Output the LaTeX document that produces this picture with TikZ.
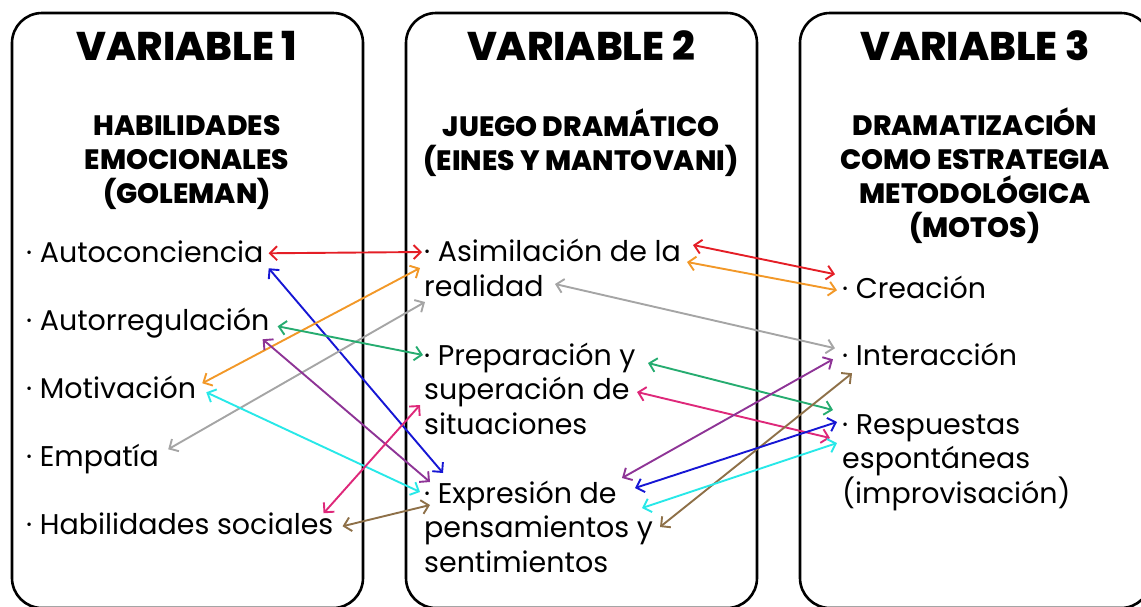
\documentclass[tikz,border=0pt]{standalone}
\usepackage{fontspec}
\setmainfont{Poppins}[BoldFont={Poppins ExtraBold}]
\usetikzlibrary{arrows.meta}

\definecolor{lnred}{RGB}{228,30,38}
\definecolor{lnblue}{RGB}{22,22,212}
\definecolor{lnorange}{RGB}{242,152,40}
\definecolor{lngray}{RGB}{165,165,165}
\definecolor{lngreen}{RGB}{38,172,112}
\definecolor{lnpurple}{RGB}{142,52,150}
\definecolor{lncyan}{RGB}{40,232,232}
\definecolor{lnpink}{RGB}{222,40,122}
\definecolor{lnbrown}{RGB}{142,112,72}

\tikzset{
  panel/.style={draw=black, line width=2.6pt, rounded corners=30pt},
  vartitle/.style={anchor=base, inner sep=0pt, font=\bfseries\fontsize{40}{46}\selectfont},
  subtitle/.style={anchor=base, align=center, inner sep=0pt, font=\bfseries\fontsize{28}{33.7}\selectfont},
  item/.style={anchor=base west, align=left, inner sep=0pt, font=\fontsize{28.5}{34.5}\selectfont},
  link/.style={line width=1.9pt, {Straight Barb[length=7pt,width=14pt]}-{Straight Barb[length=7pt,width=14pt]}}
}

\begin{document}
\begin{tikzpicture}[x=1pt, y=-1pt]
    \useasboundingbox (0,0) rectangle (1141,606);

    % the three panels
    \draw[panel] (12,13) rectangle (363,608);
    \draw[panel] (406,13) rectangle (757,608);
    \draw[panel] (800,13) rectangle (1151,608);

    % headings (base = last line)
    \node[vartitle] (var1) at (187,60) {VARIABLE 1};
    \node[vartitle] (var2) at (581,60) {VARIABLE 2};
    \node[vartitle] (var3) at (975,60) {VARIABLE 3};
    \node[subtitle] (sub1) at (187,203) {HABILIDADES\\EMOCIONALES\\(GOLEMAN)};
    \node[subtitle] (sub2) at (581,170) {JUEGO DRAMÁTICO\\(EINES Y MANTOVANI)};
    \node[subtitle] (sub3) at (975,237) {DRAMATIZACIÓN\\COMO ESTRATEGIA\\METODOLÓGICA\\(MOTOS)};

    % variable 1
    \node[item] (autoc) at (26,262) {· Autoconciencia};
    \node[item] (autor) at (26,330) {· Autorregulación};
    \node[item] (motiv) at (26,398) {· Motivación};
    \node[item] (empat) at (26,466) {· Empatía};
    \node[item] (habil) at (26,534) {· Habilidades sociales};

    % variable 2
    \node[item] (asim) at (424,296) {· Asimilación de la\\realidad};
    \node[item] (prep) at (424,434) {· Preparación y\\superación de\\situaciones};
    \node[item] (expr) at (424,572) {· Expresión de\\pensamientos y\\sentimientos};

    % variable 3
    \node[item] (crea) at (842,298) {· Creación};
    \node[item] (inter) at (842,365) {· Interacción};
    \node[item] (resp) at (842,503) {· Respuestas\\espontáneas\\(improvisación)};

    % links variable 1 -- variable 2
    \draw[link, lnred] ([shift={(5,-6)}]autoc.mid east) -- ([shift={(-2,-44)}]asim.base west);
    \draw[link, lnblue] ([shift={(5,9)}]autoc.mid east) -- ([shift={(19,-99)}]expr.base west);
    \draw[link, lnorange] ([shift={(6,-12)}]motiv.mid east) -- ([shift={(-4,-28)}]asim.base west);
    \draw[link, lngray] ([shift={(9,-14)}]empat.mid east) -- ([shift={(1,6)}]asim.base west);
    \draw[link, lngreen] ([shift={(8,-1)}]autor.mid east) -- ([shift={(-1,-79)}]prep.base west);
    \draw[link, lnpurple] ([shift={(-7,12)}]autor.mid east) -- ([shift={(6,-90)}]expr.base west);
    \draw[link, lncyan] ([shift={(10,-3)}]motiv.mid east) -- ([shift={(-4,-80)}]expr.base west);
    \draw[link, lnpink] ([shift={(-10,-18)}]habil.mid east) -- ([shift={(-4,-29)}]prep.base west);
    \draw[link, lnbrown] ([shift={(9,-5)}]habil.mid east) -- ([shift={(6,-67)}]expr.base west);

    % links variable 2 -- variable 3
    \draw[link, lnred] ([shift={(269,-51)}]asim.base west) -- ([shift={(-7,-21)}]crea.mid west);
    \draw[link, lnorange] ([shift={(263,-34)}]asim.base west) -- ([shift={(-5,-5)}]crea.mid west);
    \draw[link, lngray] ([shift={(131,-12)}]asim.base west) -- ([shift={(-7,-14)}]inter.mid west);
    \draw[link, lngreen] ([shift={(224,-71)}]prep.base west) -- ([shift={(-9,-93)}]resp.base west);
    \draw[link, lnpink] ([shift={(213,-42)}]prep.base west) -- ([shift={(-12,-65)}]resp.base west);
    \draw[link, lnpurple] ([shift={(198,-94)}]expr.base west) -- ([shift={(-9,-3)}]inter.mid west);
    \draw[link, lnbrown] ([shift={(236,-45)}]expr.base west) -- ([shift={(10,11)}]inter.mid west);
    \draw[link, lnblue] ([shift={(211,-84)}]expr.base west) -- ([shift={(-5,-81)}]resp.base west);
    \draw[link, lncyan] ([shift={(218,-64)}]expr.base west) -- ([shift={(-5,-60)}]resp.base west);
\end{tikzpicture}
\end{document}
